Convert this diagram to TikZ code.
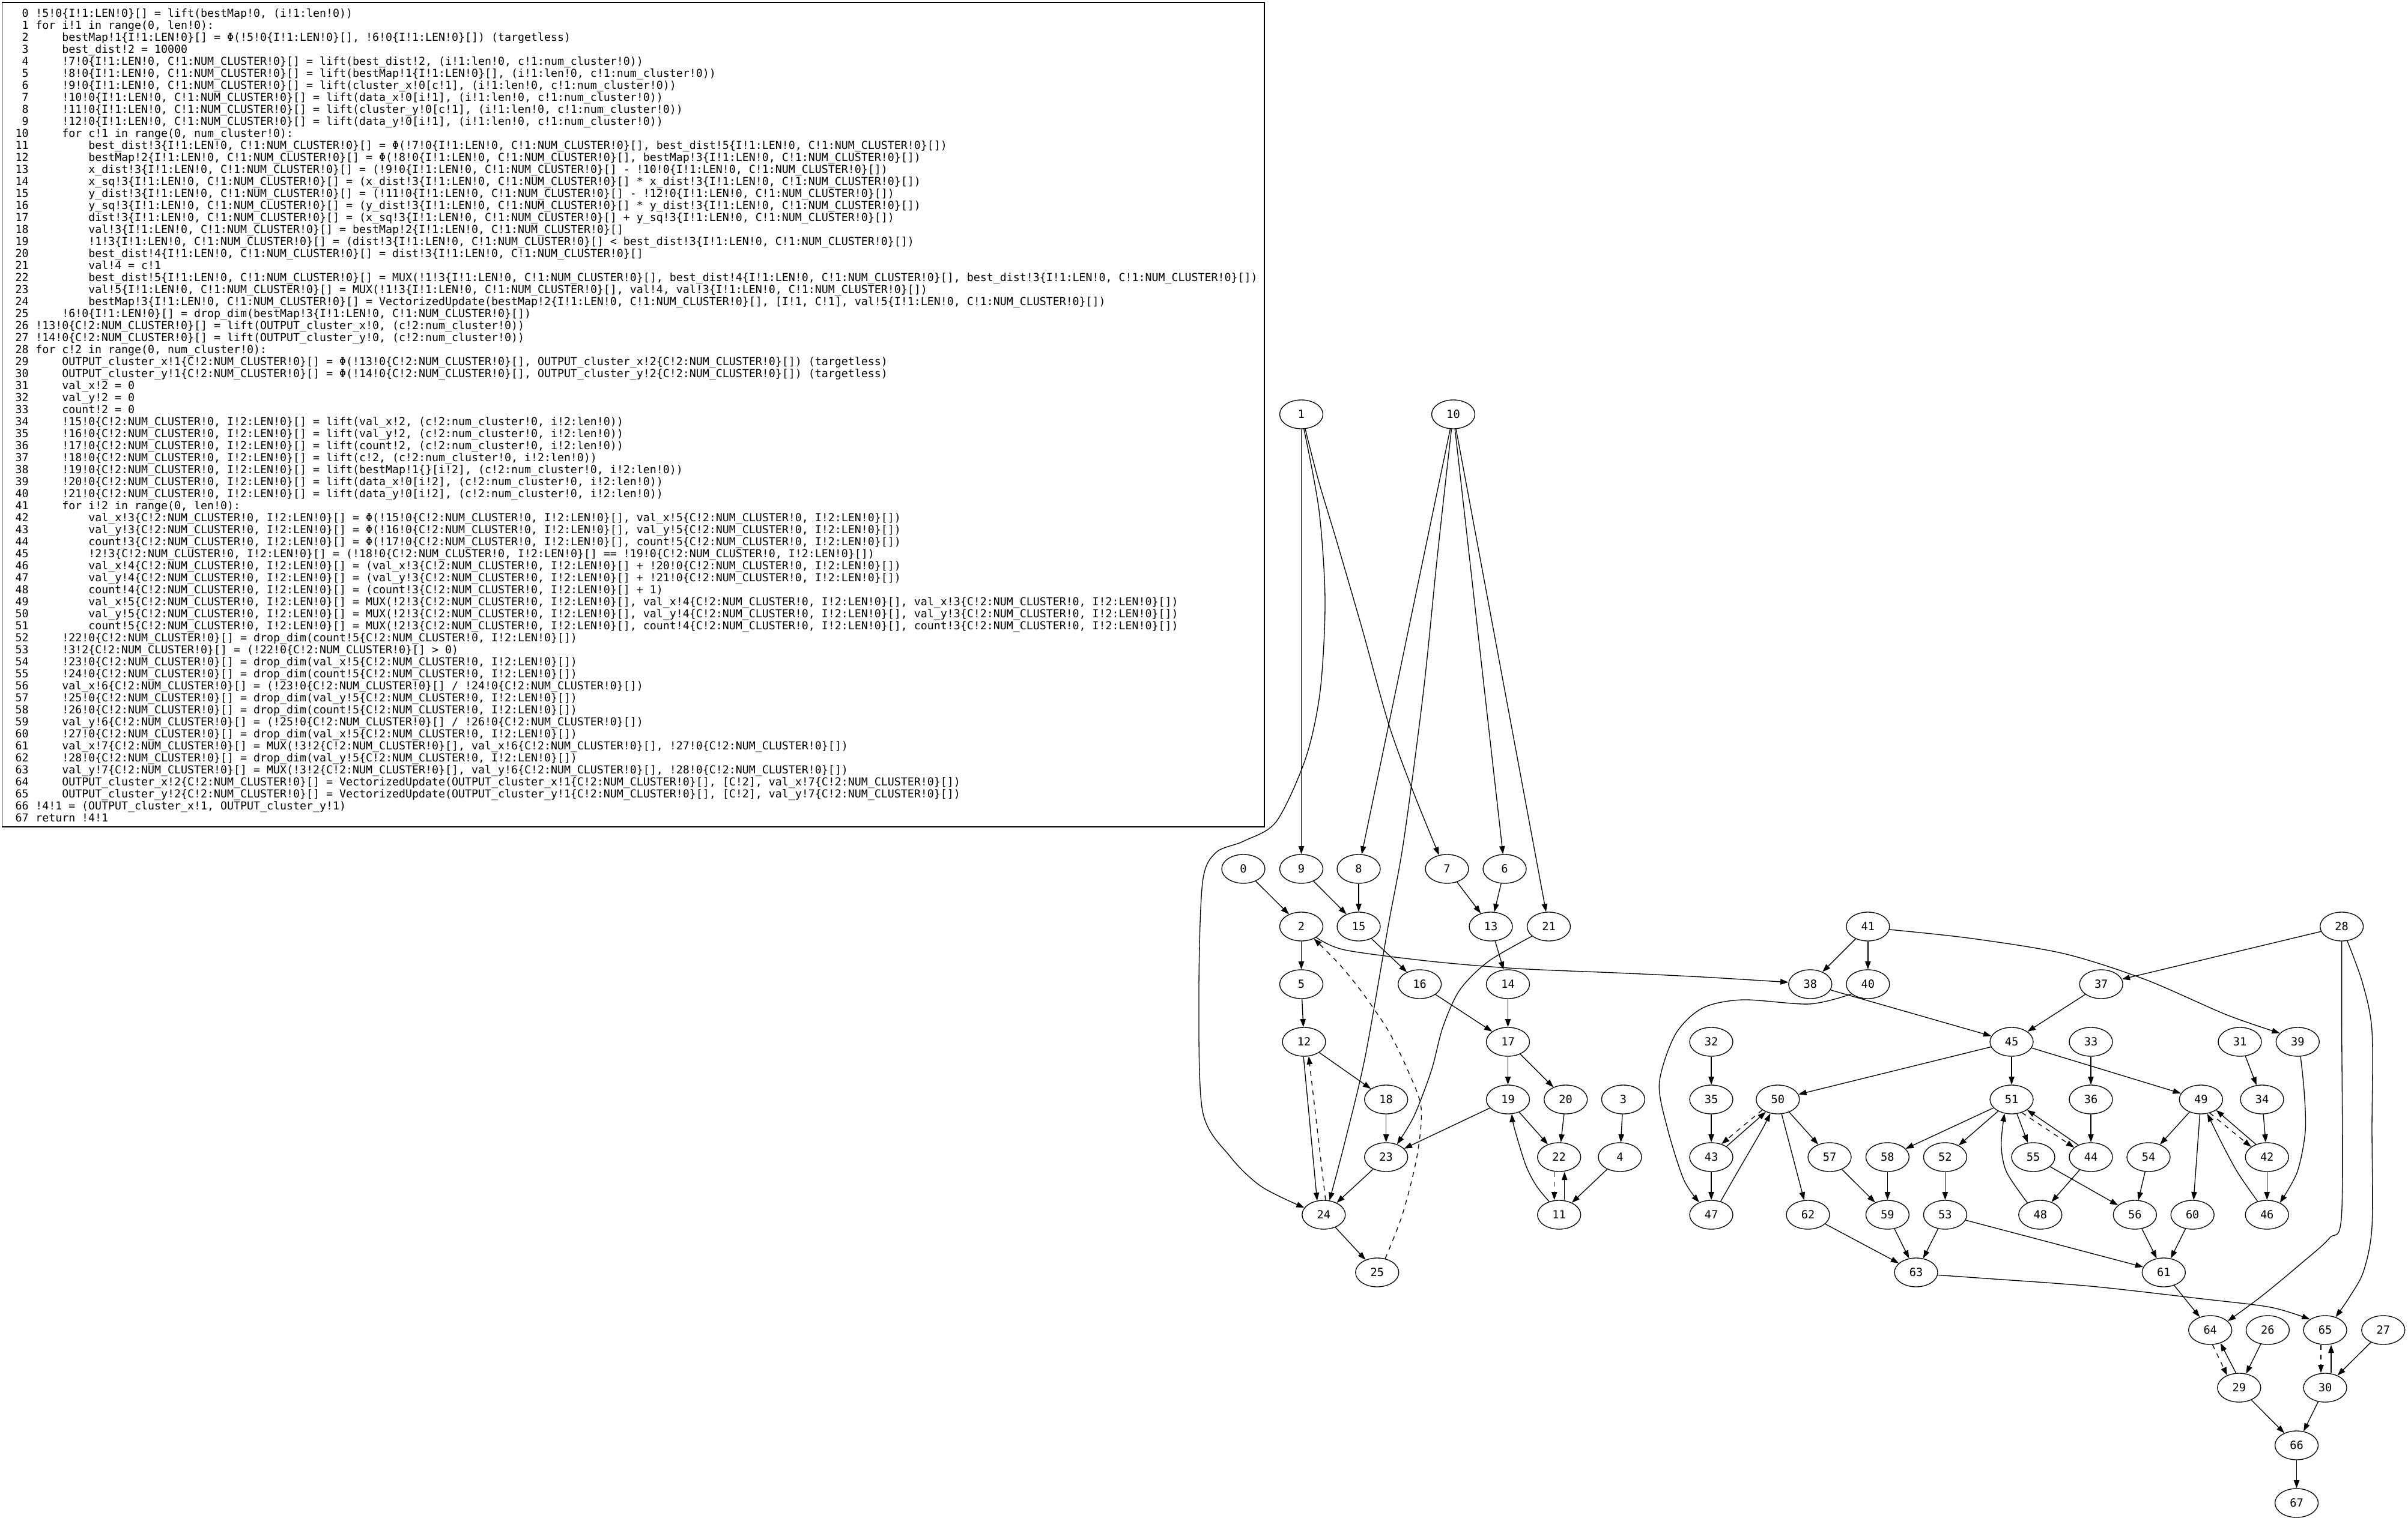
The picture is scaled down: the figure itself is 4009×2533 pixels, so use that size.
\documentclass[tikz,border=0pt]{standalone}
\usepackage{fontspec}
\newfontfamily\dvmono{DejaVu Sans Mono}
\usetikzlibrary{arrows.meta,shapes.geometric}
\tikzset{
  gn/.style={draw, ellipse, line width=1pt, minimum width=54pt, minimum height=36pt, inner sep=0pt, font=\dvmono\fontsize{14}{16}\selectfont},
  conn/.style={draw, line width=1pt, -{Triangle[length=10pt,width=7pt]}},
  dconn/.style={conn, dash pattern=on 6pt off 6pt},
  codetxt/.style={inner sep=0pt, anchor=base west, font=\dvmono\fontsize{13.7}{15}\selectfont},
  lnum/.style={inner sep=0pt, anchor=base east, font=\dvmono\fontsize{13.7}{15}\selectfont},
  codebox/.style={draw, line width=1pt, rectangle, minimum width=1576pt, minimum height=1029.75pt, inner sep=0pt},
}
\newcommand\codeln[3]{%
  \node[lnum] (ln#1) at (48,{28.5+20*#1}) {#1};
  \node[codetxt] (cd#1) at ({26+11*(3+4*#2)},{28.5+20*#1}) {\detokenize{#3}};}
\begin{document}
\begin{tikzpicture}[x=0.75pt,y=-0.75pt]
\fill[white] (0,0) rectangle (4009,2533);
\useasboundingbox (0,0) rectangle (4009,2533);
\node[codebox] (code) at (1054.25,690.5) {};
\codeln{0}{0}{!5!0{I!1:LEN!0}[] = lift(bestMap!0, (i!1:len!0))}
\codeln{1}{0}{for i!1 in range(0, len!0):}
\codeln{2}{1}{bestMap!1{I!1:LEN!0}[] = Φ(!5!0{I!1:LEN!0}[], !6!0{I!1:LEN!0}[]) (targetless)}
\codeln{3}{1}{best_dist!2 = 10000}
\codeln{4}{1}{!7!0{I!1:LEN!0, C!1:NUM_CLUSTER!0}[] = lift(best_dist!2, (i!1:len!0, c!1:num_cluster!0))}
\codeln{5}{1}{!8!0{I!1:LEN!0, C!1:NUM_CLUSTER!0}[] = lift(bestMap!1{I!1:LEN!0}[], (i!1:len!0, c!1:num_cluster!0))}
\codeln{6}{1}{!9!0{I!1:LEN!0, C!1:NUM_CLUSTER!0}[] = lift(cluster_x!0[c!1], (i!1:len!0, c!1:num_cluster!0))}
\codeln{7}{1}{!10!0{I!1:LEN!0, C!1:NUM_CLUSTER!0}[] = lift(data_x!0[i!1], (i!1:len!0, c!1:num_cluster!0))}
\codeln{8}{1}{!11!0{I!1:LEN!0, C!1:NUM_CLUSTER!0}[] = lift(cluster_y!0[c!1], (i!1:len!0, c!1:num_cluster!0))}
\codeln{9}{1}{!12!0{I!1:LEN!0, C!1:NUM_CLUSTER!0}[] = lift(data_y!0[i!1], (i!1:len!0, c!1:num_cluster!0))}
\codeln{10}{1}{for c!1 in range(0, num_cluster!0):}
\codeln{11}{2}{best_dist!3{I!1:LEN!0, C!1:NUM_CLUSTER!0}[] = Φ(!7!0{I!1:LEN!0, C!1:NUM_CLUSTER!0}[], best_dist!5{I!1:LEN!0, C!1:NUM_CLUSTER!0}[])}
\codeln{12}{2}{bestMap!2{I!1:LEN!0, C!1:NUM_CLUSTER!0}[] = Φ(!8!0{I!1:LEN!0, C!1:NUM_CLUSTER!0}[], bestMap!3{I!1:LEN!0, C!1:NUM_CLUSTER!0}[])}
\codeln{13}{2}{x_dist!3{I!1:LEN!0, C!1:NUM_CLUSTER!0}[] = (!9!0{I!1:LEN!0, C!1:NUM_CLUSTER!0}[] - !10!0{I!1:LEN!0, C!1:NUM_CLUSTER!0}[])}
\codeln{14}{2}{x_sq!3{I!1:LEN!0, C!1:NUM_CLUSTER!0}[] = (x_dist!3{I!1:LEN!0, C!1:NUM_CLUSTER!0}[] * x_dist!3{I!1:LEN!0, C!1:NUM_CLUSTER!0}[])}
\codeln{15}{2}{y_dist!3{I!1:LEN!0, C!1:NUM_CLUSTER!0}[] = (!11!0{I!1:LEN!0, C!1:NUM_CLUSTER!0}[] - !12!0{I!1:LEN!0, C!1:NUM_CLUSTER!0}[])}
\codeln{16}{2}{y_sq!3{I!1:LEN!0, C!1:NUM_CLUSTER!0}[] = (y_dist!3{I!1:LEN!0, C!1:NUM_CLUSTER!0}[] * y_dist!3{I!1:LEN!0, C!1:NUM_CLUSTER!0}[])}
\codeln{17}{2}{dist!3{I!1:LEN!0, C!1:NUM_CLUSTER!0}[] = (x_sq!3{I!1:LEN!0, C!1:NUM_CLUSTER!0}[] + y_sq!3{I!1:LEN!0, C!1:NUM_CLUSTER!0}[])}
\codeln{18}{2}{val!3{I!1:LEN!0, C!1:NUM_CLUSTER!0}[] = bestMap!2{I!1:LEN!0, C!1:NUM_CLUSTER!0}[]}
\codeln{19}{2}{!1!3{I!1:LEN!0, C!1:NUM_CLUSTER!0}[] = (dist!3{I!1:LEN!0, C!1:NUM_CLUSTER!0}[] < best_dist!3{I!1:LEN!0, C!1:NUM_CLUSTER!0}[])}
\codeln{20}{2}{best_dist!4{I!1:LEN!0, C!1:NUM_CLUSTER!0}[] = dist!3{I!1:LEN!0, C!1:NUM_CLUSTER!0}[]}
\codeln{21}{2}{val!4 = c!1}
\codeln{22}{2}{best_dist!5{I!1:LEN!0, C!1:NUM_CLUSTER!0}[] = MUX(!1!3{I!1:LEN!0, C!1:NUM_CLUSTER!0}[], best_dist!4{I!1:LEN!0, C!1:NUM_CLUSTER!0}[], best_dist!3{I!1:LEN!0, C!1:NUM_CLUSTER!0}[])}
\codeln{23}{2}{val!5{I!1:LEN!0, C!1:NUM_CLUSTER!0}[] = MUX(!1!3{I!1:LEN!0, C!1:NUM_CLUSTER!0}[], val!4, val!3{I!1:LEN!0, C!1:NUM_CLUSTER!0}[])}
\codeln{24}{2}{bestMap!3{I!1:LEN!0, C!1:NUM_CLUSTER!0}[] = VectorizedUpdate(bestMap!2{I!1:LEN!0, C!1:NUM_CLUSTER!0}[], [I!1, C!1], val!5{I!1:LEN!0, C!1:NUM_CLUSTER!0}[])}
\codeln{25}{1}{!6!0{I!1:LEN!0}[] = drop_dim(bestMap!3{I!1:LEN!0, C!1:NUM_CLUSTER!0}[])}
\codeln{26}{0}{!13!0{C!2:NUM_CLUSTER!0}[] = lift(OUTPUT_cluster_x!0, (c!2:num_cluster!0))}
\codeln{27}{0}{!14!0{C!2:NUM_CLUSTER!0}[] = lift(OUTPUT_cluster_y!0, (c!2:num_cluster!0))}
\codeln{28}{0}{for c!2 in range(0, num_cluster!0):}
\codeln{29}{1}{OUTPUT_cluster_x!1{C!2:NUM_CLUSTER!0}[] = Φ(!13!0{C!2:NUM_CLUSTER!0}[], OUTPUT_cluster_x!2{C!2:NUM_CLUSTER!0}[]) (targetless)}
\codeln{30}{1}{OUTPUT_cluster_y!1{C!2:NUM_CLUSTER!0}[] = Φ(!14!0{C!2:NUM_CLUSTER!0}[], OUTPUT_cluster_y!2{C!2:NUM_CLUSTER!0}[]) (targetless)}
\codeln{31}{1}{val_x!2 = 0}
\codeln{32}{1}{val_y!2 = 0}
\codeln{33}{1}{count!2 = 0}
\codeln{34}{1}{!15!0{C!2:NUM_CLUSTER!0, I!2:LEN!0}[] = lift(val_x!2, (c!2:num_cluster!0, i!2:len!0))}
\codeln{35}{1}{!16!0{C!2:NUM_CLUSTER!0, I!2:LEN!0}[] = lift(val_y!2, (c!2:num_cluster!0, i!2:len!0))}
\codeln{36}{1}{!17!0{C!2:NUM_CLUSTER!0, I!2:LEN!0}[] = lift(count!2, (c!2:num_cluster!0, i!2:len!0))}
\codeln{37}{1}{!18!0{C!2:NUM_CLUSTER!0, I!2:LEN!0}[] = lift(c!2, (c!2:num_cluster!0, i!2:len!0))}
\codeln{38}{1}{!19!0{C!2:NUM_CLUSTER!0, I!2:LEN!0}[] = lift(bestMap!1{}[i!2], (c!2:num_cluster!0, i!2:len!0))}
\codeln{39}{1}{!20!0{C!2:NUM_CLUSTER!0, I!2:LEN!0}[] = lift(data_x!0[i!2], (c!2:num_cluster!0, i!2:len!0))}
\codeln{40}{1}{!21!0{C!2:NUM_CLUSTER!0, I!2:LEN!0}[] = lift(data_y!0[i!2], (c!2:num_cluster!0, i!2:len!0))}
\codeln{41}{1}{for i!2 in range(0, len!0):}
\codeln{42}{2}{val_x!3{C!2:NUM_CLUSTER!0, I!2:LEN!0}[] = Φ(!15!0{C!2:NUM_CLUSTER!0, I!2:LEN!0}[], val_x!5{C!2:NUM_CLUSTER!0, I!2:LEN!0}[])}
\codeln{43}{2}{val_y!3{C!2:NUM_CLUSTER!0, I!2:LEN!0}[] = Φ(!16!0{C!2:NUM_CLUSTER!0, I!2:LEN!0}[], val_y!5{C!2:NUM_CLUSTER!0, I!2:LEN!0}[])}
\codeln{44}{2}{count!3{C!2:NUM_CLUSTER!0, I!2:LEN!0}[] = Φ(!17!0{C!2:NUM_CLUSTER!0, I!2:LEN!0}[], count!5{C!2:NUM_CLUSTER!0, I!2:LEN!0}[])}
\codeln{45}{2}{!2!3{C!2:NUM_CLUSTER!0, I!2:LEN!0}[] = (!18!0{C!2:NUM_CLUSTER!0, I!2:LEN!0}[] == !19!0{C!2:NUM_CLUSTER!0, I!2:LEN!0}[])}
\codeln{46}{2}{val_x!4{C!2:NUM_CLUSTER!0, I!2:LEN!0}[] = (val_x!3{C!2:NUM_CLUSTER!0, I!2:LEN!0}[] + !20!0{C!2:NUM_CLUSTER!0, I!2:LEN!0}[])}
\codeln{47}{2}{val_y!4{C!2:NUM_CLUSTER!0, I!2:LEN!0}[] = (val_y!3{C!2:NUM_CLUSTER!0, I!2:LEN!0}[] + !21!0{C!2:NUM_CLUSTER!0, I!2:LEN!0}[])}
\codeln{48}{2}{count!4{C!2:NUM_CLUSTER!0, I!2:LEN!0}[] = (count!3{C!2:NUM_CLUSTER!0, I!2:LEN!0}[] + 1)}
\codeln{49}{2}{val_x!5{C!2:NUM_CLUSTER!0, I!2:LEN!0}[] = MUX(!2!3{C!2:NUM_CLUSTER!0, I!2:LEN!0}[], val_x!4{C!2:NUM_CLUSTER!0, I!2:LEN!0}[], val_x!3{C!2:NUM_CLUSTER!0, I!2:LEN!0}[])}
\codeln{50}{2}{val_y!5{C!2:NUM_CLUSTER!0, I!2:LEN!0}[] = MUX(!2!3{C!2:NUM_CLUSTER!0, I!2:LEN!0}[], val_y!4{C!2:NUM_CLUSTER!0, I!2:LEN!0}[], val_y!3{C!2:NUM_CLUSTER!0, I!2:LEN!0}[])}
\codeln{51}{2}{count!5{C!2:NUM_CLUSTER!0, I!2:LEN!0}[] = MUX(!2!3{C!2:NUM_CLUSTER!0, I!2:LEN!0}[], count!4{C!2:NUM_CLUSTER!0, I!2:LEN!0}[], count!3{C!2:NUM_CLUSTER!0, I!2:LEN!0}[])}
\codeln{52}{1}{!22!0{C!2:NUM_CLUSTER!0}[] = drop_dim(count!5{C!2:NUM_CLUSTER!0, I!2:LEN!0}[])}
\codeln{53}{1}{!3!2{C!2:NUM_CLUSTER!0}[] = (!22!0{C!2:NUM_CLUSTER!0}[] > 0)}
\codeln{54}{1}{!23!0{C!2:NUM_CLUSTER!0}[] = drop_dim(val_x!5{C!2:NUM_CLUSTER!0, I!2:LEN!0}[])}
\codeln{55}{1}{!24!0{C!2:NUM_CLUSTER!0}[] = drop_dim(count!5{C!2:NUM_CLUSTER!0, I!2:LEN!0}[])}
\codeln{56}{1}{val_x!6{C!2:NUM_CLUSTER!0}[] = (!23!0{C!2:NUM_CLUSTER!0}[] / !24!0{C!2:NUM_CLUSTER!0}[])}
\codeln{57}{1}{!25!0{C!2:NUM_CLUSTER!0}[] = drop_dim(val_y!5{C!2:NUM_CLUSTER!0, I!2:LEN!0}[])}
\codeln{58}{1}{!26!0{C!2:NUM_CLUSTER!0}[] = drop_dim(count!5{C!2:NUM_CLUSTER!0, I!2:LEN!0}[])}
\codeln{59}{1}{val_y!6{C!2:NUM_CLUSTER!0}[] = (!25!0{C!2:NUM_CLUSTER!0}[] / !26!0{C!2:NUM_CLUSTER!0}[])}
\codeln{60}{1}{!27!0{C!2:NUM_CLUSTER!0}[] = drop_dim(val_x!5{C!2:NUM_CLUSTER!0, I!2:LEN!0}[])}
\codeln{61}{1}{val_x!7{C!2:NUM_CLUSTER!0}[] = MUX(!3!2{C!2:NUM_CLUSTER!0}[], val_x!6{C!2:NUM_CLUSTER!0}[], !27!0{C!2:NUM_CLUSTER!0}[])}
\codeln{62}{1}{!28!0{C!2:NUM_CLUSTER!0}[] = drop_dim(val_y!5{C!2:NUM_CLUSTER!0, I!2:LEN!0}[])}
\codeln{63}{1}{val_y!7{C!2:NUM_CLUSTER!0}[] = MUX(!3!2{C!2:NUM_CLUSTER!0}[], val_y!6{C!2:NUM_CLUSTER!0}[], !28!0{C!2:NUM_CLUSTER!0}[])}
\codeln{64}{1}{OUTPUT_cluster_x!2{C!2:NUM_CLUSTER!0}[] = VectorizedUpdate(OUTPUT_cluster_x!1{C!2:NUM_CLUSTER!0}[], [C!2], val_x!7{C!2:NUM_CLUSTER!0}[])}
\codeln{65}{1}{OUTPUT_cluster_y!2{C!2:NUM_CLUSTER!0}[] = VectorizedUpdate(OUTPUT_cluster_y!1{C!2:NUM_CLUSTER!0}[], [C!2], val_y!7{C!2:NUM_CLUSTER!0}[])}
\codeln{66}{0}{!4!1 = (OUTPUT_cluster_x!1, OUTPUT_cluster_y!1)}
\codeln{67}{0}{return !4!1}
% graph nodes
\node[gn] (v1) at (2166.5,690) {1};
\node[gn] (v10) at (2419.5,690) {10};
\node[gn] (v0) at (2070,1447) {0};
\node[gn] (v9) at (2166.5,1447) {9};
\node[gn] (v8) at (2262,1447) {8};
\node[gn] (v7) at (2409,1447) {7};
\node[gn] (v6) at (2505,1447) {6};
\node[gn] (v2) at (2166.5,1543) {2};
\node[gn] (v15) at (2262,1543) {15};
\node[gn] (v13) at (2482,1543) {13};
\node[gn] (v21) at (2578.5,1543) {21};
\node[gn] (v41) at (3109.8,1543) {41};
\node[gn] (v28) at (3898.6,1543) {28};
\node[gn] (v5) at (2166.5,1639) {5};
\node[gn] (v16) at (2363.6,1639) {16};
\node[gn] (v14) at (2510.5,1639) {14};
\node[gn] (v38) at (3013.8,1639) {38};
\node[gn] (v40) at (3109.8,1639) {40};
\node[gn] (v37) at (3498.2,1639) {37};
\node[gn] (v12) at (2171,1735) {12};
\node[gn] (v17) at (2510.5,1735) {17};
\node[gn] (v32) at (2849,1735) {32};
\node[gn] (v45) at (3349,1735) {45};
\node[gn] (v33) at (3481,1735) {33};
\node[gn] (v31) at (3729,1735) {31};
\node[gn] (v39) at (3825.3,1735) {39};
\node[gn] (v18) at (2307.7,1831) {18};
\node[gn] (v19) at (2510.5,1831) {19};
\node[gn] (v20) at (2606.7,1831) {20};
\node[gn] (v3) at (2702.4,1831) {3};
\node[gn] (v35) at (2849,1831) {35};
\node[gn] (v50) at (2959.8,1831) {50};
\node[gn] (v51) at (3349,1831) {51};
\node[gn] (v36) at (3481,1831) {36};
\node[gn] (v49) at (3664.3,1831) {49};
\node[gn] (v34) at (3766,1831) {34};
\node[gn] (v23) at (2307.7,1927) {23};
\node[gn] (v22) at (2595.7,1927) {22};
\node[gn] (v4) at (2697,1927) {4};
\node[gn] (v43) at (2849,1927) {43};
\node[gn] (v57) at (3046,1927) {57};
\node[gn] (v58) at (3142.4,1927) {58};
\node[gn] (v52) at (3238.4,1927) {52};
\node[gn] (v55) at (3385,1927) {55};
\node[gn] (v44) at (3481,1927) {44};
\node[gn] (v54) at (3577,1927) {54};
\node[gn] (v42) at (3774.2,1927) {42};
\node[gn] (v24) at (2203.8,2023) {24};
\node[gn] (v11) at (2595.7,2023) {11};
\node[gn] (v47) at (2849,2023) {47};
\node[gn] (v62) at (3010,2023) {62};
\node[gn] (v59) at (3142.4,2023) {59};
\node[gn] (v53) at (3238.4,2023) {53};
\node[gn] (v48) at (3396.8,2023) {48};
\node[gn] (v56) at (3554.3,2023) {56};
\node[gn] (v60) at (3650.2,2023) {60};
\node[gn] (v46) at (3774.2,2023) {46};
\node[gn] (v25) at (2292.8,2119) {25};
\node[gn] (v63) at (3190,2119) {63};
\node[gn] (v61) at (3602.3,2119) {61};
\node[gn] (v64) at (3679.7,2215) {64};
\node[gn] (v26) at (3775.4,2215) {26};
\node[gn] (v65) at (3871,2215) {65};
\node[gn] (v27) at (3967.8,2215) {27};
\node[gn] (v29) at (3727.8,2311) {29};
\node[gn] (v30) at (3871,2311) {30};
\node[gn] (v66) at (3823.5,2407) {66};
\node[gn] (v67) at (3823.5,2503) {67};
% straight connectors
\foreach \a/\b in {1/9,10/8,10/6,10/21,0/2,9/15,8/15,7/13,6/13,2/5,15/16,13/14,5/12,16/17,14/17,12/18,17/19,17/20,18/23,19/23,19/22,20/22,3/4,23/24,4/11,24/25,
  41/38,41/40,28/37,38/45,37/45,32/35,45/50,45/51,45/49,33/36,31/34,35/43,50/57,50/62,51/58,51/52,51/55,36/44,49/54,49/60,34/42,43/47,57/59,58/59,52/53,55/56,44/48,54/56,42/46,62/63,59/63,53/63,53/61,56/61,60/61,61/64,26/29,27/30,29/66,30/66,66/67}
  {\draw[conn] (v\a) -- (v\b);}
% paired connectors
\draw[conn] (v12.268) -- (v24.115);
\draw[dconn] (v24.83) -- (v12.288);
\draw[dconn] ([xshift=-6pt]v22.south) -- ([xshift=-6pt]v11.north);
\draw[conn] ([xshift=6.75pt]v11.north) -- ([xshift=6.75pt]v22.south);
\draw[conn] (v43.35) -- (v50.-134);
\draw[dconn] (v50.-146) -- (v43.52);
\draw[conn] (v44.136) -- (v51.-34);
\draw[dconn] (v51.-52) -- (v44.150);
\draw[conn] (v42.131) -- (v49.-35);
\draw[dconn] (v49.-57) -- (v42.147);
\draw[conn] (v29.102) -- (v64.-52);
\draw[dconn] (v64.-81) -- (v29.134);
\draw[conn] ([xshift=7.5pt]v30.north) -- ([xshift=7.5pt]v65.south);
\draw[dconn] ([xshift=-5.25pt]v65.south) -- ([xshift=-5.25pt]v30.north);
% curved connectors
\draw[conn] plot[smooth] coordinates {(v1.-80) (2196,850) (2206,1000) (2198,1150) (2174,1262) (2125,1368) (2070,1401) (2024,1420) (2002,1470) (1996,1650) (2002,1850) (2048,1926) (2100,1976) (v24.160)};
\draw[conn] plot[smooth] coordinates {(v1.-75) (2195,800) (2225,900) (2268,1048) (2312,1206) (2353,1319) (v7.120)};
\draw[conn] plot[smooth] coordinates {(v10.-97) (2393,926) (2370,1150) (2337,1400) (2311,1543) (2273,1759) (2239,1902) (v24.68)};
\draw[conn] plot[smooth] coordinates {(v2.-36) (2239,1582) (2383,1601) (2526,1613) (2700,1620.5) (2834,1627) (v38.175)};
\draw[conn] plot[smooth] coordinates {(v21.210) (2478,1601) (2430,1649) (2402,1711) (2383,1783) (2354,1859) (v23.50)};
\draw[conn] plot[smooth] coordinates {(v11.127) (2558,1975) (2540,1940) (2521,1878) (v19.-75)};
\draw[dconn] plot[smooth] coordinates {(v25.60) (2335,2022) (2359,1926) (2366,1845) (2344,1783) (2311,1716) (2268,1653) (2230,1606) (v2.-44)};
\draw[conn] plot[smooth] coordinates {(v40.211) (3012.5,1672) (2901,1665) (2834,1679) (2789,1723) (2762.5,1803.5) (2776,1879) (2803,1964) (v47.134)};
\draw[conn] plot[smooth] coordinates {(v41.-8) (3280,1562.5) (3435.7,1588) (3571,1631) (3707,1690) (v39.154)};
\draw[conn] plot[smooth] coordinates {(v63.-7) (3300,2128.6) (3481,2142) (3662,2162.5) (3780,2177) (v65.145)};
\draw[conn] plot[smooth] coordinates {(v48.137) (3340.7,1952) (3331.7,1907) (v51.-117)};
\draw[conn] plot[smooth] coordinates {(v46.125) (3725,1952) (3698,1902) (v49.-66)};
\draw[conn] plot[smooth] coordinates {(v39.-79) (3836,1816.5) (3838,1884) (3824.5,1952) (v46.43)};
\draw[conn] plot[smooth] coordinates {(v28.south) (3898.6,1700) (3898.6,2020) (3878,2062) (3830,2105) (3766,2158) (v64.27)};
\draw[conn] plot[smooth] coordinates {(v28.-69) (3933,1636) (3949,1717) (3949,1880) (3949,2043) (3935,2117) (3911.6,2160) (v65.51)};
\draw[conn] plot[smooth] coordinates {(v47.55) (2896,1946) (2932,1884) (v50.-118)};
\end{tikzpicture}
\end{document}
